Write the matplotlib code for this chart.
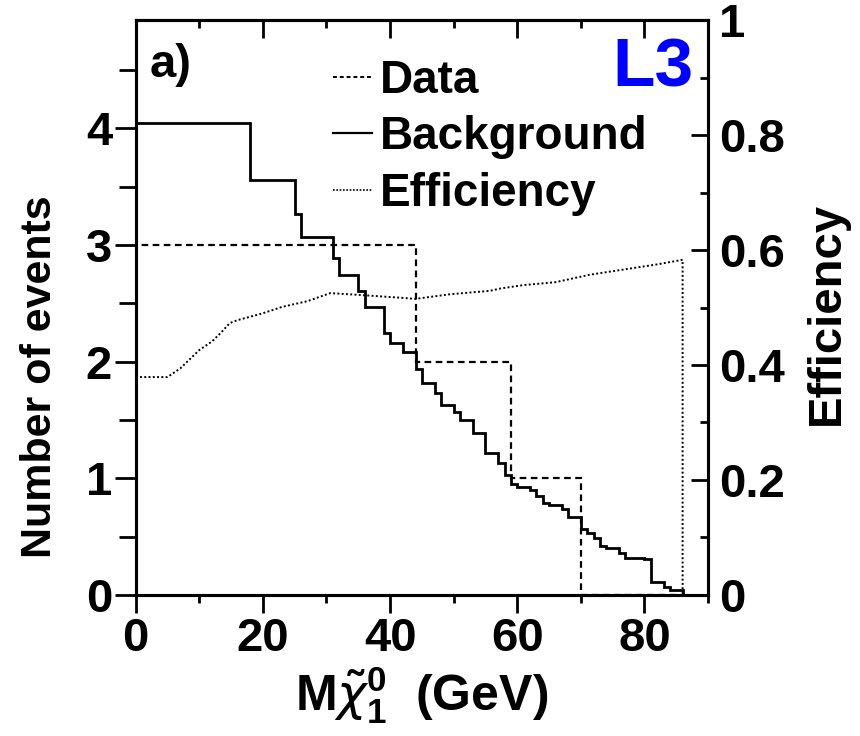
import matplotlib
matplotlib.use("Agg")
import matplotlib.pyplot as plt
from matplotlib.ticker import MultipleLocator
from matplotlib.lines import Line2D

plt.rcParams['font.family'] = ['Liberation Sans', 'DejaVu Sans']
plt.rcParams['font.weight'] = 'bold'
plt.rcParams['mathtext.fontset'] = 'custom'
plt.rcParams['mathtext.rm'] = 'Liberation Sans:bold'
plt.rcParams['mathtext.bf'] = 'Liberation Sans:bold'
plt.rcParams['mathtext.it'] = 'DejaVu Sans:italic:normal'

# background histogram (bin edges in GeV, events per bin)
bkg_edges = [0, 18, 25, 26, 31, 32, 35, 36, 39, 40, 42, 44, 45, 47, 48, 50, 51, 53, 55, 57,
             58, 59, 60, 62, 63, 64, 65, 67, 68, 70, 71, 72, 73, 74, 76, 77, 80, 81, 83, 84, 86]
bkg_values = [4.05, 3.56, 3.27, 3.07, 2.89, 2.74, 2.61, 2.47, 2.25, 2.16,
              2.08, 1.94, 1.82, 1.73, 1.63, 1.57, 1.50, 1.39, 1.22, 1.13,
              1.03, 0.95, 0.93, 0.90, 0.85, 0.79, 0.77, 0.74, 0.67, 0.57,
              0.53, 0.49, 0.42, 0.40, 0.36, 0.32, 0.31, 0.11, 0.07, 0.04]

# data
data_edges = [0, 44, 59, 70, 86]
data_values = [3, 2, 1, 0]

# efficiency (right axis)
eff_mass = [0, 5, 7, 10, 12, 13.3, 14.8, 16, 20, 23, 27, 30.6, 35, 41.6, 44,
            49.4, 55.7, 57.3, 61, 66, 71.4, 76.7, 82, 86, 86]
eff_values = [0.379, 0.379, 0.394, 0.426, 0.441, 0.455, 0.473, 0.478, 0.490, 0.501, 0.511,
              0.525, 0.522, 0.517, 0.515, 0.523, 0.529, 0.533, 0.539, 0.544, 0.557,
              0.566, 0.575, 0.583, 0.0]

fig = plt.figure(figsize=(8.6, 7.36), dpi=100)
ax = fig.add_axes([0.1578, 0.1916, 0.6655, 0.7812])
ax2 = ax.twinx()

ax.stairs(bkg_values, bkg_edges, baseline=0, color='black', lw=2.0)
ax.stairs(data_values, data_edges, baseline=0, color='black', lw=1.6,
          linestyle=(0, (3, 2)))
ax2.plot(eff_mass, eff_values, color='black', lw=1.4, linestyle=(0, (1, 1.2)))

ax.set_xlim(0, 90)
ax.set_ylim(0, 4.93)
ax2.set_ylim(0, 1)

for a in (ax, ax2):
    for s in a.spines.values():
        s.set_linewidth(2.2)

# bottom and left ticks point out
ax.xaxis.set_major_locator(MultipleLocator(20))
ax.xaxis.set_minor_locator(MultipleLocator(10))
ax.yaxis.set_major_locator(MultipleLocator(1))
ax.yaxis.set_minor_locator(MultipleLocator(0.5))
ax.tick_params(axis='x', which='major', direction='out', length=13, width=2, labelsize=34, pad=3)
ax.tick_params(axis='x', which='minor', direction='out', length=6, width=2)
ax.tick_params(axis='y', which='major', direction='out', length=15, width=2, labelsize=34, pad=2)
ax.tick_params(axis='y', which='minor', direction='out', length=12, width=2)

# top ticks point in
top = ax.secondary_xaxis('top')
top.xaxis.set_major_locator(MultipleLocator(20))
top.xaxis.set_minor_locator(MultipleLocator(10))
top.tick_params(which='major', direction='in', length=13, width=2, labeltop=False)
top.tick_params(which='minor', direction='in', length=6, width=2)
top.spines['top'].set_linewidth(2.2)

ax2.set_yticks([0, 0.2, 0.4, 0.6, 0.8, 1.0])
ax2.set_yticklabels(['0', '0.2', '0.4', '0.6', '0.8', '1'])
ax2.yaxis.set_minor_locator(MultipleLocator(0.1))
ax2.tick_params(axis='y', which='major', direction='in', length=12, width=2, labelsize=34, pad=8)
ax2.tick_params(axis='y', which='minor', direction='in', length=6, width=2)

ax.set_xlabel(r'M$\tilde{\chi}_{\mathbf{1}}^{\mathbf{0}}$  (GeV)', fontsize=36, fontweight='bold', labelpad=2)
ax.set_ylabel('Number of events', fontsize=31, fontweight='bold')
ax.yaxis.set_label_coords(-0.132, 0.38)
ax2.set_ylabel('Efficiency', fontsize=34, fontweight='bold')
ax2.yaxis.set_label_coords(1.169, 0.49)

ax.text(0.025, 0.96, 'a)', transform=ax.transAxes, fontsize=34, fontweight='bold',
        ha='left', va='top')
ax.text(0.975, 0.972, 'L3', transform=ax.transAxes, fontsize=50, fontweight='bold',
        color='#0000ff', ha='right', va='top')

h_data = Line2D([], [], color='black', lw=1.4, linestyle=(0, (2, 1.5)))
h_bkg = Line2D([], [], color='black', lw=1.6)
h_eff = Line2D([], [], color='black', lw=1.2, linestyle=(0, (1, 1)))
ax.legend([h_data, h_bkg, h_eff], ['Data', 'Background', 'Efficiency'],
          loc='upper left', bbox_to_anchor=(0.345, 0.932), frameon=False,
          fontsize=33, handlelength=0.85, handletextpad=0.17, labelspacing=0.27,
          borderaxespad=0, borderpad=0)

fig.savefig('out.png', dpi=100)
